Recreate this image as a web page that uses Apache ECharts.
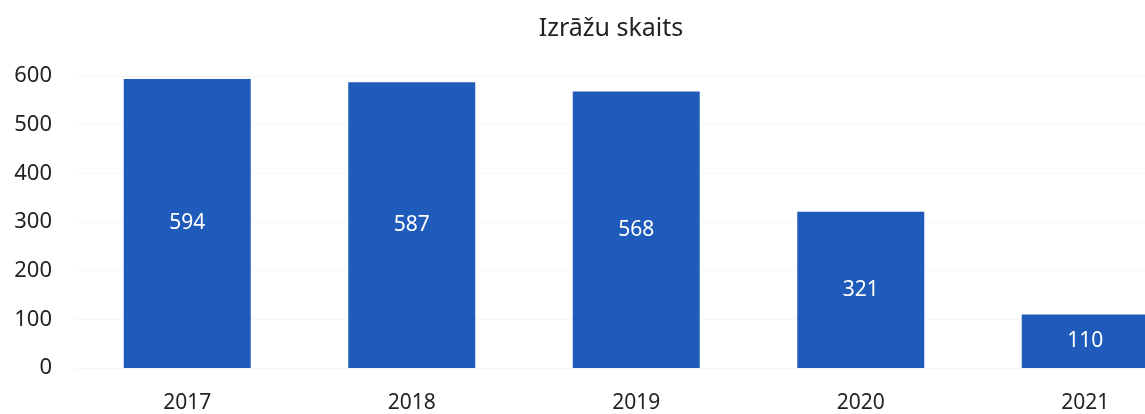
<!DOCTYPE html>
<html><head><meta charset="utf-8">
<script src="https://cdn.jsdelivr.net/npm/echarts@6/dist/echarts.min.js"></script>
<style>html,body{margin:0;padding:0;background:#fff;overflow:hidden}#c{width:1200px;height:414px}</style>
</head><body><div id="c"></div>
<script>
const categories = ['2017','2018','2019','2020','2021'];
const values = [594, 587, 568, 321, 110];
const titleText = 'Izrāžu skaits';
const chart = echarts.init(document.getElementById('c'));
const font = 'Noto Sans';
chart.setOption({
  animation: false,
  title: {text: titleText, left: 606, top: 11, textAlign: 'center',
    textStyle: {fontFamily: font, fontSize: 25, fontWeight: 'normal', color: '#222'}},
  grid: {left: 75, right: 2.5, top: 76, bottom: 46, containLabel: false},
  xAxis: {type: 'category', data: categories,
    axisLine: {show: false}, axisTick: {show: false},
    axisLabel: {fontFamily: font, fontSize: 21, color: '#222', margin: 25}},
  yAxis: {type: 'value', min: 0, max: 600, interval: 100,
    splitLine: {show: true, lineStyle: {color: '#f6f6f6'}},
    axisLabel: {fontFamily: font, fontSize: 22, color: '#222', margin: 23}},
  series: [{type: 'bar', data: values, barWidth: 127,
    itemStyle: {color: '#1F5BBA'},
    label: {show: true, position: 'inside', color: '#fff', fontFamily: font, fontSize: 21}}]
});
</script></body></html>
